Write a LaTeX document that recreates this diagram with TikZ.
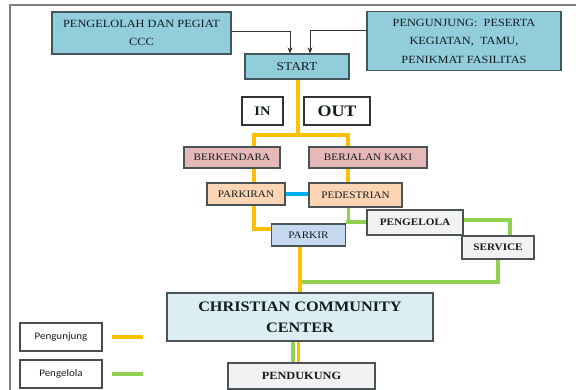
\documentclass[tikz,border=0pt]{standalone}
\usepackage{fontspec}
\setmainfont{Liberation Serif}[FakeStretch=1.12]
\newfontfamily\legendfont{Carlito}[FakeStretch=1.1]
\usetikzlibrary{arrows.meta}
\definecolor{topblue}{HTML}{92CDDC}
\definecolor{pinkf}{HTML}{E6B9B8}
\definecolor{peachf}{HTML}{FCD5B4}
\definecolor{parkirf}{HTML}{C5D9F1}
\definecolor{grayf}{HTML}{F2F2F2}
\definecolor{cccf}{HTML}{DAEEF3}
\definecolor{oranl}{HTML}{FFC000}
\definecolor{greenl}{HTML}{92D050}
\definecolor{bluel}{HTML}{00B0F0}
\definecolor{txt}{HTML}{141C1F}
\definecolor{bord}{HTML}{4A5356}
\tikzset{
  box/.style={draw=bord, line width=1.2pt, inner sep=0pt, align=center, text=txt},
  bluebox/.style={box, fill=topblue, draw=bord!90!teal},
  arr/.style={draw=black!80, line width=0.8pt, -{Stealth[length=6pt,width=5pt]}},
  ora/.style={draw=oranl, line width=3.2pt},
  grn/.style={draw=greenl, line width=3.2pt},
  blu/.style={draw=bluel, line width=3.2pt},
}
\begin{document}
\begin{tikzpicture}[x=1pt,y=-1pt]
\useasboundingbox (0,0) rectangle (576,390);
\draw[draw=black!50, line width=1.4pt] (10,392) -- (10,5) -- (578,5);

% nodes
\node[bluebox, minimum width=179pt, minimum height=42pt, font={\fontsize{11}{17.5}\selectfont}] (pg) at (141.5,33) {PENGELOLAH DAN PEGIAT\\CCC};
\node[bluebox, minimum width=194pt, minimum height=59pt, font={\fontsize{11}{18.5}\selectfont}] (pj) at (464,41) {PENGUNJUNG:\ \ PESERTA\\KEGIATAN,\ \ TAMU,\\PENIKMAT FASILITAS};
\node[bluebox, minimum width=104pt, minimum height=25pt, font={\fontsize{12}{14}\selectfont}] (start) at (297,66.5) {START};
\node[box, draw=black!80, fill=white, minimum width=41pt, minimum height=28pt, font={\fontsize{13}{15}\selectfont\bfseries}] (in) at (262.5,111) {IN};
\node[box, draw=black!80, fill=white, minimum width=66pt, minimum height=28pt, font={\fontsize{16}{18}\selectfont\bfseries}] (out) at (337,111) {OUT};
\node[box, fill=pinkf, minimum width=96pt, minimum height=21pt, font={\fontsize{10}{12}\selectfont}] (berk) at (232,157.5) {BERKENDARA};
\node[box, fill=pinkf, minimum width=118pt, minimum height=21pt, font={\fontsize{10}{12}\selectfont}] (berj) at (368,157.5) {BERJALAN KAKI};
\node[box, fill=peachf, minimum width=78pt, minimum height=22pt, font={\fontsize{10}{12}\selectfont}] (parkiran) at (246,194) {PARKIRAN};
\node[box, fill=peachf, minimum width=93pt, minimum height=24pt, font={\fontsize{10}{12}\selectfont}] (ped) at (355.5,195) {PEDESTRIAN};
\node[box, fill=parkirf, minimum width=74pt, minimum height=22pt, font={\fontsize{10}{12}\selectfont}] (parkir) at (308.5,235) {PARKIR};
\node[box, fill=grayf, minimum width=96pt, minimum height=25pt, font={\fontsize{10}{12}\selectfont\bfseries}] (pengelola) at (415,222.5) {PENGELOLA};
\node[box, fill=grayf, minimum width=72pt, minimum height=23pt, font={\fontsize{10}{12}\selectfont\bfseries}] (service) at (498,247.5) {SERVICE};
\node[box, fill=cccf, minimum width=266pt, minimum height=48pt, font={\fontsize{14.5}{21}\selectfont\bfseries}] (ccc) at (300,317) {CHRISTIAN COMMUNITY\\CENTER};
\node[box, fill=grayf, minimum width=147pt, minimum height=26pt, font={\fontsize{11}{13}\selectfont\bfseries}] (pend) at (301.5,376) {PENDUKUNG};
\node[box, draw=black!70, fill=white, minimum width=82pt, minimum height=28pt, font={\legendfont\fontsize{10}{12}\selectfont}] (leg1) at (61,337) {Pengunjung};
\node[box, draw=black!70, fill=white, minimum width=82pt, minimum height=28pt, font={\legendfont\fontsize{10}{12}\selectfont}] (leg2) at (61,374) {Pengelola};

% arrows into START
\draw[arr] ([yshift=2pt]pg.east) -| ([xshift=-7pt]start.north);
\draw[arr] ([yshift=11pt]pj.west) -| ([xshift=13pt]start.north);

% coordinates
\coordinate (j1) at (298,135);
\coordinate (g1) at (348.5,222);
\coordinate (g2) at (300,282);

% blue connector
\draw[blu] (parkiran.east) -- (parkiran.east -| ped.west);

% green connectors
\draw[grn] ([xshift=-7pt]ped.south) -- (g1) -- (g1 -| pengelola.west);
\draw[grn] (g1) -- (g1 -| parkir.east);
\draw[grn] ([yshift=2.5pt]pengelola.east) -| ([xshift=12pt]service.north);
\draw[grn] (service.south) |- (g2);
\draw[grn] ([xshift=-7pt]ccc.south) -- ([xshift=-7pt]ccc.south |- pend.north);

% orange connectors
\draw[ora] ([xshift=1pt]start.south) -- (j1);
\draw[ora] ([xshift=22pt]berk.north) |- (j1) -| ([xshift=-20pt]berj.north);
\draw[ora] ([xshift=22pt]berk.south) -- ([xshift=22pt]berk.south |- parkiran.north);
\draw[ora] ([xshift=8pt]parkiran.south) |- ([yshift=6pt]parkir.west);
\draw[ora] ([xshift=-20pt]berj.south) -- ([xshift=-20pt]berj.south |- ped.north);
\draw[ora] ([xshift=-8.5pt]parkir.south) -- ([xshift=-8.5pt]parkir.south |- ccc.north);
\draw[ora] ([xshift=-1.5pt]ccc.south) -- ([xshift=-1.5pt]ccc.south |- pend.north);

% legend swatches
\draw[ora] ([xshift=9pt]leg1.east) -- ++(31,0);
\draw[grn] ([xshift=9pt]leg2.east) -- ++(31,0);
\end{tikzpicture}
\end{document}
